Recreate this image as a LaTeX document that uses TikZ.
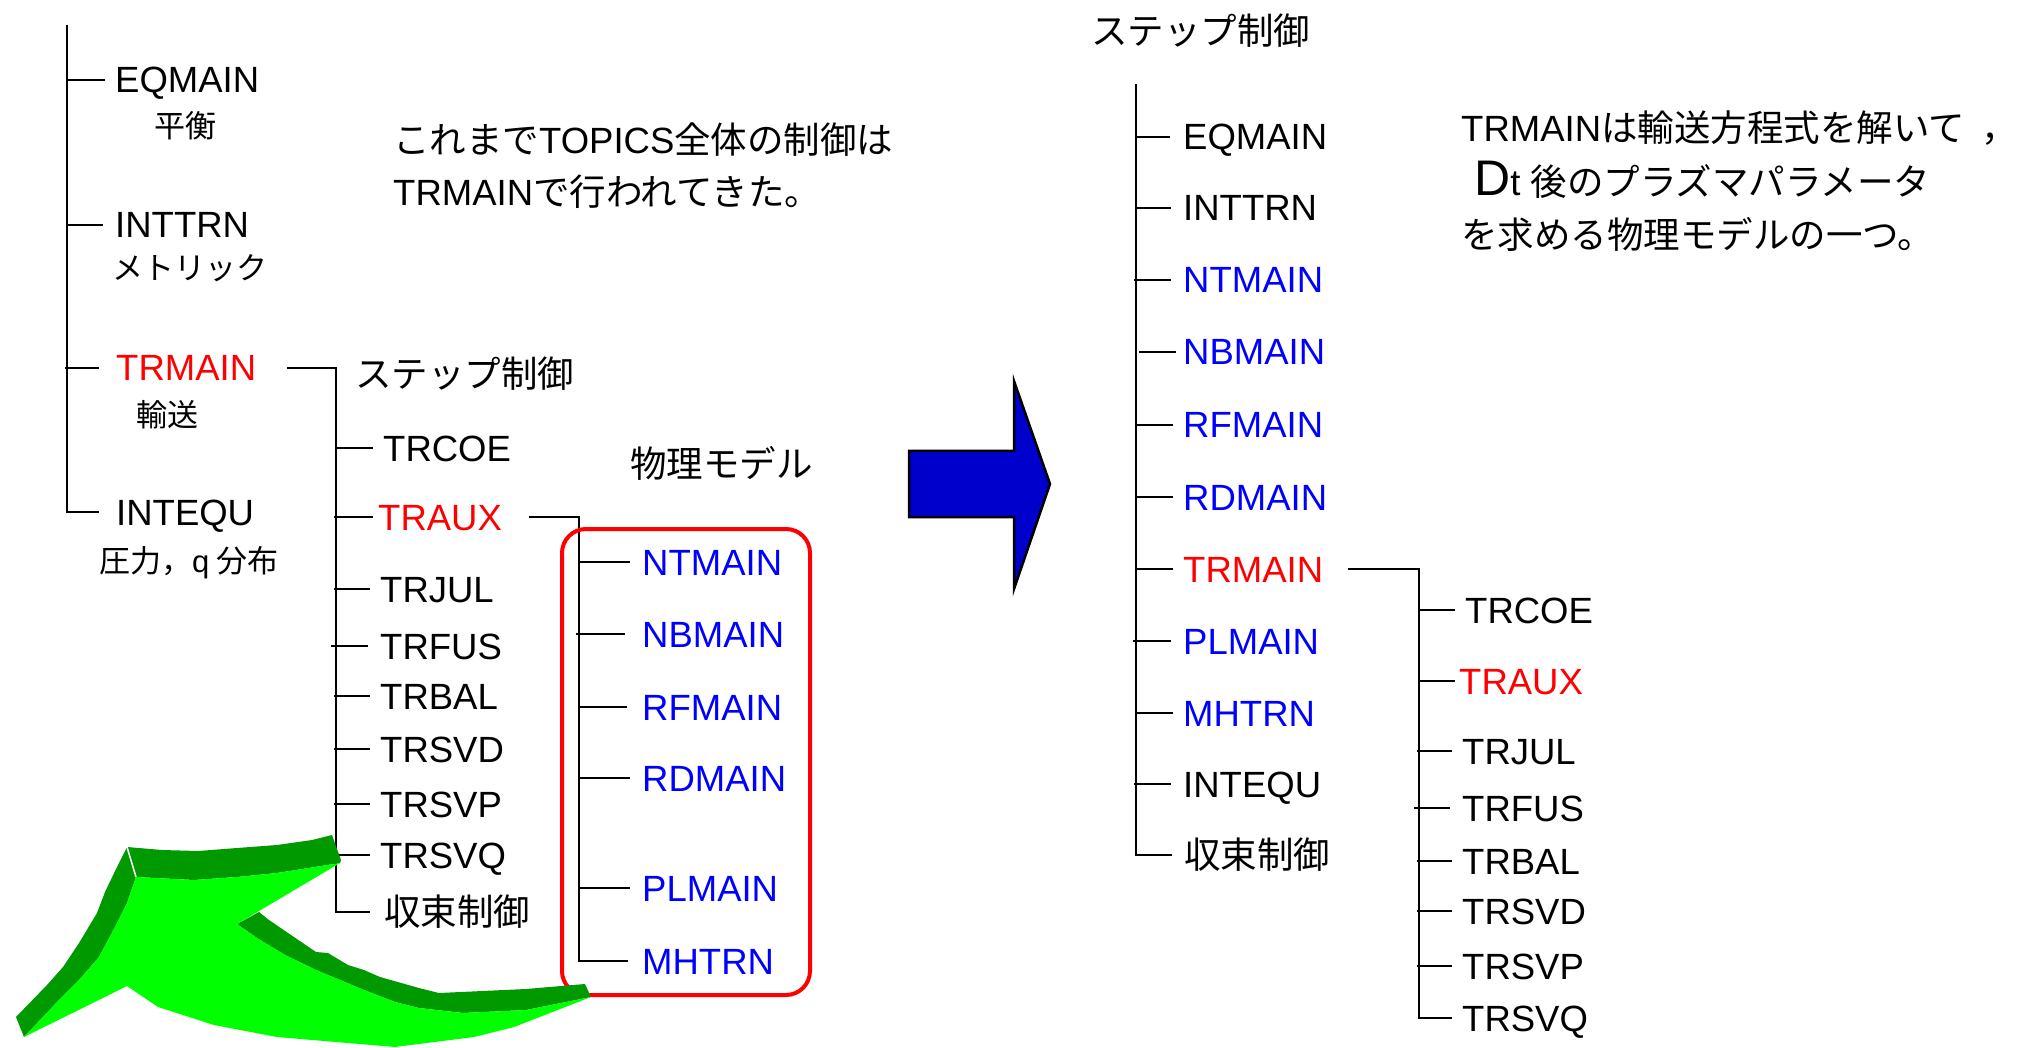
\documentclass[tikz,border=0pt]{standalone}
\usepackage{fontspec}
\setmainfont{Liberation Sans}
\newfontfamily\jp{Noto Sans CJK JP}
\definecolor{modelblue}{RGB}{0,0,255}
\definecolor{hotred}{RGB}{255,0,0}
\definecolor{arrowblue}{RGB}{0,0,204}
\definecolor{lightgreen}{RGB}{0,255,0}
\definecolor{darkgreen}{RGB}{0,153,0}
\begin{document}
\begin{tikzpicture}[x=1pt,y=-1pt,
  tree/.style={line width=2.4pt, black},
  lbl/.style={anchor=west, inner sep=0pt, text height=26pt, text depth=0pt,
              font=\fontsize{36.5}{40}\selectfont},
  model/.style={lbl, text=modelblue},
  hot/.style={lbl, text=hotred},
  sub/.style={anchor=west, inner sep=0pt, text height=23pt, text depth=0pt,
              font=\jp\fontsize{31}{34}\selectfont}]
\useasboundingbox (0,0) rectangle (2022,1048);

% ---------------- old structure: top level ----------------
\coordinate (sA) at (67,25);
\node[lbl] (eqL)  at (115,80)  {EQMAIN};
\node[lbl] (intL) at (115,225) {INTTRN};
\node[hot] (trmL) at (116,368) {TRMAIN};
\node[lbl] (iqL)  at (116,512) {INTEQU};
\node[sub] (eqJ)  at (154,126) {平衡};
\node[sub] (intJ) at (112,268) {メトリック};
\node[sub] (trmJ) at (136,415) {輸送};
\node[sub] (iqJ)  at (99,561)  {圧力，{\rmfamily q} 分布};
\draw[tree] (sA) -- (sA |- iqL.west) -- ([xshift=-17pt]iqL.west);
\draw[tree] (sA |- eqL.west) -- ([xshift=-10pt]eqL.west);
\draw[tree] (sA |- intL.west) -- ([xshift=-12pt]intL.west);
\draw[tree] ([xshift=-2pt]sA |- trmL.west) -- ([xshift=-17pt]trmL.west);

\node[lbl] (noteL1) at (393,141) {{\jp これまで}TOPICS{\jp 全体の制御は}};
\node[lbl] (noteL2) at (393,193) {TRMAIN{\jp で行われてきた。}};

% ---------------- old structure: step control under TRMAIN ----------------
\coordinate (sB) at (336,366);
\node[lbl] (stepL) at (355,375) {\jp ステップ制御};
\node[lbl] (coeL) at (383,448) {TRCOE};
\node[hot] (auxL) at (378,517) {TRAUX};
\node[lbl] (julL) at (380,589) {TRJUL};
\node[lbl] (fusL) at (380,646) {TRFUS};
\node[lbl] (balL) at (380,696) {TRBAL};
\node[lbl] (svdL) at (380,749) {TRSVD};
\node[lbl] (svpL) at (380,804) {TRSVP};
\node[lbl] (svqL) at (380,855) {TRSVQ};
\node[lbl] (cvL)  at (384,912) {\jp 収束制御};
\draw[tree] ([xshift=31pt]trmL.east) -| (sB |- cvL.west) -- ([xshift=-14pt]cvL.west);
\draw[tree] (sB |- coeL.west) -- ([xshift=-10pt]coeL.west);
\draw[tree] ([xshift=-2pt]sB |- auxL.west) -- ([xshift=-5pt]auxL.west);
\draw[tree] ([xshift=-2pt]sB |- julL.west) -- ([xshift=-10pt]julL.west);
\draw[tree] ([xshift=-5pt]sB |- fusL.west) -- ([xshift=-12pt]fusL.west);
\draw[tree] ([xshift=-2pt]sB |- balL.west) -- ([xshift=-10pt]balL.west);
\draw[tree] ([xshift=-2pt]sB |- svdL.west) -- ([xshift=-10pt]svdL.west);
\draw[tree] ([xshift=-2pt]sB |- svpL.west) -- ([xshift=-10pt]svpL.west);
\draw[tree] ([xshift=-2pt]sB |- svqL.west) -- ([xshift=-10pt]svqL.west);

% ---------------- physics models under TRAUX ----------------
\node[lbl] (physL) at (630,465) {\jp 物理モデル};
\coordinate (sC) at (579,516);
\node[model] (ntL) at (642,562) {NTMAIN};
\node[model] (nbL) at (642,634) {NBMAIN};
\node[model] (rfL) at (642,707) {RFMAIN};
\node[model] (rdL) at (642,778) {RDMAIN};
\node[model] (plL) at (642,888) {PLMAIN};
\node[model] (mhL) at (642,961) {MHTRN};
\draw[tree] ([xshift=27pt]auxL.east) -| (sC |- mhL.west) -- ([xshift=-14pt]mhL.west);
\draw[tree] (sC |- ntL.west) -- ([xshift=-12pt]ntL.west);
\draw[tree] ([xshift=-3pt]sC |- nbL.west) -- ([xshift=-17pt]nbL.west);
\draw[tree] (sC |- rfL.west) -- ([xshift=-15pt]rfL.west);
\draw[tree] (sC |- rdL.west) -- ([xshift=-12pt]rdL.west);
\draw[tree] (sC |- plL.west) -- ([xshift=-12pt]plL.west);
\draw[hotred, line width=4pt, rounded corners=24pt] (562,529) rectangle (810,995);

% ---------------- curved 3D arrow ----------------
\fill[darkgreen] (127,847) -- (162,850) -- (198,851) -- (237,848) -- (277,845)
  -- (312,840) -- (332,835) -- (341,860) -- (340,863) -- (277,873) -- (237,877)
  -- (194,880) -- (136,877) -- cycle;
\fill[darkgreen] (127,847) -- (117,867) -- (105,892) -- (97,913) -- (79,943)
  -- (63,967) -- (47,985) -- (16,1017) -- (24,1037) -- (59,1000) -- (79,980)
  -- (99,957) -- (115,927) -- (127,903) -- (136,877) -- cycle;
\fill[darkgreen] (237,924) -- (259,912) -- (269,920) -- (316,952) -- (328,953)
  -- (348,965) -- (364,970) -- (380,977) -- (419,988) -- (439,993) -- (526,989)
  -- (585,984) -- (591,997) -- (526,1010) -- (463,1013) -- (419,1008)
  -- (395,1002) -- (364,990) -- (340,980) -- (316,970) -- (285,955)
  -- (257,938) -- cycle;
\fill[lightgreen] (136,877) -- (194,880) -- (237,877) -- (277,873) -- (340,863)
  -- (237,924) -- (257,938) -- (285,955) -- (316,970) -- (340,980) -- (364,990)
  -- (395,1002) -- (419,1008) -- (463,1013) -- (526,1010) -- (591,997)
  -- (514,1027) -- (474,1037) -- (395,1047) -- (277,1037) -- (214,1025)
  -- (158,1007) -- (127,986) -- (24,1037) -- (59,1000) -- (79,980) -- (99,957)
  -- (115,927) -- (127,903) -- cycle;
\draw[white, line width=1.5pt] (127,847) -- (136,877);

% ---------------- big blue arrow ----------------
\draw[fill=arrowblue, line width=2.5pt, line join=miter]
  (909,451) -- (1014,451) -- (1014,381) -- (1050,484) -- (1014,589)
  -- (1014,517) -- (909,517) -- cycle;

% ---------------- new structure ----------------
\node[lbl] (stepR) at (1091,32) {\jp ステップ制御};
\coordinate (sD) at (1136,84);
\node[lbl]   (eqR)  at (1183,137) {EQMAIN};
\node[lbl]   (intR) at (1183,208) {INTTRN};
\node[model] (ntR)  at (1183,280) {NTMAIN};
\node[model] (nbR)  at (1183,352) {NBMAIN};
\node[model] (rfR)  at (1183,425) {RFMAIN};
\node[model] (rdR)  at (1183,497) {RDMAIN};
\node[hot]   (trmR) at (1183,569) {TRMAIN};
\node[model] (plR)  at (1183,641) {PLMAIN};
\node[model] (mhR)  at (1183,713) {MHTRN};
\node[lbl]   (iqR)  at (1183,784) {INTEQU};
\node[lbl]   (cvR)  at (1184,855) {\jp 収束制御};
\draw[tree] (sD) -- (sD |- cvR.west) -- ([xshift=-12pt]cvR.west);
\draw[tree] (sD |- eqR.west) -- ([xshift=-13pt]eqR.west);
\draw[tree] (sD |- intR.west) -- ([xshift=-12pt]intR.west);
\draw[tree] ([xshift=-2pt]sD |- ntR.west) -- ([xshift=-12pt]ntR.west);
\draw[tree] ([xshift=3pt]sD |- nbR.west) -- ([xshift=-7pt]nbR.west);
\draw[tree] (sD |- rfR.west) -- ([xshift=-10pt]rfR.west);
\draw[tree] (sD |- rdR.west) -- ([xshift=-10pt]rdR.west);
\draw[tree] (sD |- trmR.west) -- ([xshift=-10pt]trmR.west);
\draw[tree] ([xshift=-3pt]sD |- plR.west) -- ([xshift=-12pt]plR.west);
\draw[tree] (sD |- mhR.west) -- ([xshift=-10pt]mhR.west);
\draw[tree] ([xshift=-2pt]sD |- iqR.west) -- ([xshift=-12pt]iqR.west);

\coordinate (sE) at (1419,570);
\node[lbl] (coeR) at (1465,610)  {TRCOE};
\node[hot] (auxR) at (1459,681)  {TRAUX};
\node[lbl] (julR) at (1462,751)  {TRJUL};
\node[lbl] (fusR) at (1462,808)  {TRFUS};
\node[lbl] (balR) at (1462,861)  {TRBAL};
\node[lbl] (svdR) at (1462,911)  {TRSVD};
\node[lbl] (svpR) at (1462,966)  {TRSVP};
\node[lbl] (svqR) at (1462,1018) {TRSVQ};
\draw[tree] ([xshift=25pt]trmR.east) -| (sE |- svqR.west) -- ([xshift=-10pt]svqR.west);
\draw[tree] (sE |- coeR.west) -- ([xshift=-10pt]coeR.west);
\draw[tree] (sE |- auxR.west) -- ([xshift=-4pt]auxR.west);
\draw[tree] ([xshift=-2pt]sE |- julR.west) -- ([xshift=-10pt]julR.west);
\draw[tree] ([xshift=-5pt]sE |- fusR.west) -- ([xshift=-12pt]fusR.west);
\draw[tree] ([xshift=-2pt]sE |- balR.west) -- ([xshift=-10pt]balR.west);
\draw[tree] ([xshift=-2pt]sE |- svdR.west) -- ([xshift=-10pt]svdR.west);
\draw[tree] ([xshift=-2pt]sE |- svpR.west) -- ([xshift=-10pt]svpR.west);

\node[lbl] (noteR1) at (1461,129) {TRMAIN{\jp は輸送方程式を解いて}\hspace{16pt}{\jp ，}};
\node[lbl] (noteR2) at (1474,183) {{\fontsize{50}{50}\selectfont D}t {\jp 後のプラズマパラメータ}};
\node[lbl] (noteR3) at (1461,236) {\jp を求める物理モデルの一つ。};
\end{tikzpicture}
\end{document}
